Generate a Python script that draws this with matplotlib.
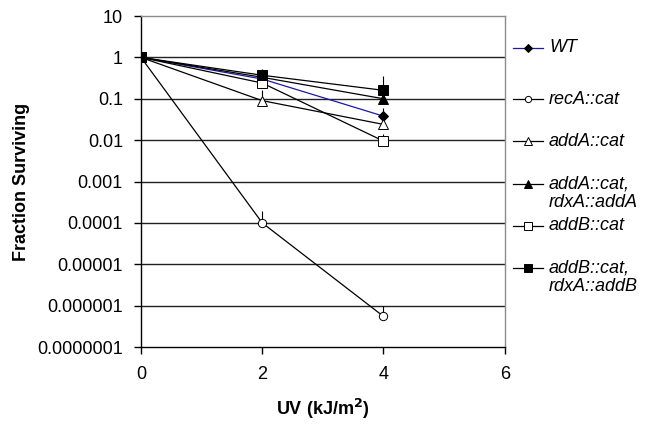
import matplotlib
matplotlib.use('Agg')
import matplotlib.pyplot as plt
from matplotlib.lines import Line2D
from matplotlib.ticker import FixedLocator, FixedFormatter

plt.rcParams['font.family'] = ['Liberation Sans', 'DejaVu Sans']

# UV dose (kJ/m^2)
uv = [0, 2, 4]

# fraction surviving per strain, with upper error values
labels = ['WT', 'recA::cat', 'addA::cat', 'addA::cat,\nrdxA::addA',
          'addB::cat', 'addB::cat,\nrdxA::addB']
wt = [1.0, 0.30, 0.038]
wt_up = [1.0, 0.52, 0.060]
reca = [1.0, 1.0e-4, 5.5e-7]
reca_up = [1.0, 1.9e-4, 1.0e-6]
adda = [1.0, 0.09, 0.024]
adda_up = [1.0, 0.16, 0.030]
adda_rdx = [1.0, 0.33, 0.10]
adda_rdx_up = [1.0, 0.36, 0.11]
addb = [1.0, 0.24, 0.0095]
addb_up = [1.0, 0.26, 0.014]
addb_rdx = [1.0, 0.37, 0.16]
addb_rdx_up = [1.0, 0.45, 0.35]

series = [wt, reca, adda, adda_rdx, addb, addb_rdx]
uppers = [wt_up, reca_up, adda_up, adda_rdx_up, addb_up, addb_rdx_up]

# style per series: line colour, marker, face, size
styles = [
    ('#1a1aa6', 'D', 'black', 5.5),
    ('black', 'o', 'white', 6),
    ('black', '^', 'white', 7.5),
    ('black', '^', 'black', 7.5),
    ('black', 's', 'white', 7),
    ('black', 's', 'black', 7.5),
]

yticks = [1e-7, 1e-6, 1e-5, 1e-4, 1e-3, 1e-2, 1e-1, 1, 10]
ytick_labels = ['0.0000001', '0.000001', '0.00001', '0.0001', '0.001',
                '0.01', '0.1', '1', '10']

fig = plt.figure(figsize=(6.51, 4.26), dpi=100)
ax = fig.add_axes([0.2166, 0.1854, 0.5587, 0.777])

for yt in yticks[1:-1]:
    ax.axhline(yt, color='#222222', lw=1.0, zorder=1)

# draw back to front so filled squares sit on top
order = [1, 2, 4, 0, 3, 5]
for i in order:
    y, up = series[i], uppers[i]
    lc, mk, fc, ms = styles[i]
    err = [[0] * len(y), [u - v for u, v in zip(up, y)]]
    ax.errorbar(uv, y, yerr=err, color=lc, lw=0.9, ecolor='black',
                elinewidth=0.8, capsize=0, marker=mk, mfc=fc, mec='black',
                ms=ms, mew=0.7, zorder=3 + i)

ax.set_yscale('log')
ax.set_ylim(1e-7, 10)
ax.set_xlim(0, 6)
ax.yaxis.set_major_locator(FixedLocator(yticks))
ax.yaxis.set_major_formatter(FixedFormatter(ytick_labels))
ax.yaxis.set_minor_locator(FixedLocator([]))
ax.set_xticks([0, 2, 4, 6])
ax.tick_params(axis='both', labelsize=13, length=5, width=1, direction='out')
ax.tick_params(axis='y', pad=8)
ax.tick_params(axis='x', pad=9)

for side in ['top', 'right']:
    ax.spines[side].set_color('#8c8c8c')
    ax.spines[side].set_linewidth(1)
for side in ['left', 'bottom']:
    ax.spines[side].set_color('black')
    ax.spines[side].set_linewidth(1)

ax.set_ylabel('Fraction Surviving', fontsize=13, fontweight='bold', labelpad=5)
ax.set_xlabel('UV (kJ/m$^\\mathbf{2}$)', fontsize=13, fontweight='bold', labelpad=10)

# legend drawn by hand to keep the uneven spacing of the original
leg_y = [48, 99, 141, 193, 226, 277]
W, H = 651, 426
for i, lab in enumerate(labels):
    lc, mk, fc, ms = styles[i]
    yf = 1 - leg_y[i] / H
    if '\n' in lab:
        yl = 1 - (leg_y[i] - 9) / H
    else:
        yl = yf
    fig.add_artist(Line2D([513 / W, 543 / W], [yl, yl], color=lc, lw=0.9,
                          transform=fig.transFigure))
    fig.add_artist(Line2D([528 / W], [yl], marker=mk, mfc=fc, mec='black',
                          ms=ms - 1.5, mew=0.7, transform=fig.transFigure))
    fig.text(549 / W, yf, lab, fontsize=13, style='italic', va='center',
             ha='left', linespacing=1.15)

fig.savefig('out.png', dpi=100)
